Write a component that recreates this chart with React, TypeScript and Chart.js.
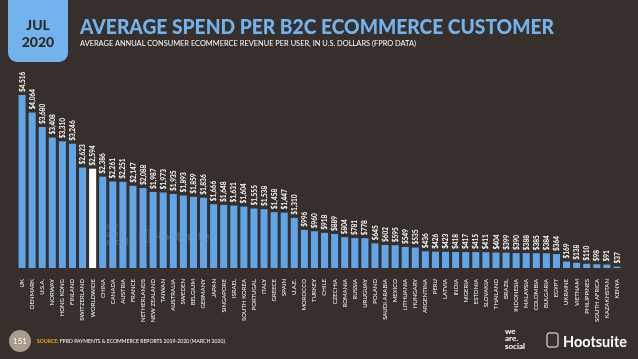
import React, { useEffect, useRef } from 'react';
import { Chart, registerables } from 'chart.js';
Chart.register(...registerables);

const categories = [
  'UK', 'DENMARK', 'U.S.A.', 'NORWAY', 'HONG KONG', 'FINLAND', 'SWITZERLAND', 'WORLDWIDE',
  'CHINA', 'CANADA', 'AUSTRIA', 'FRANCE', 'NETHERLANDS', 'NEW ZEALAND', 'TAIWAN', 'AUSTRALIA',
  'SWEDEN', 'BELGIUM', 'GERMANY', 'JAPAN', 'SINGAPORE', 'ISRAEL', 'SOUTH KOREA', 'PORTUGAL',
  'ITALY', 'GREECE', 'SPAIN', 'U.A.E.', 'MOROCCO', 'TURKEY', 'CHILE', 'CZECHIA', 'ROMANIA',
  'RUSSIA', 'URUGUAY', 'POLAND', 'SAUDI ARABIA', 'MEXICO', 'LITHUANIA', 'HUNGARY', 'ARGENTINA',
  'PERU', 'LATVIA', 'INDIA', 'NIGERIA', 'ESTONIA', 'SLOVAKIA', 'THAILAND', 'BRAZIL', 'INDONESIA',
  'MALAYSIA', 'COLOMBIA', 'BULGARIA', 'EGYPT', 'UKRAINE', 'VIETNAM', 'PHILIPPINES',
  'SOUTH AFRICA', 'KAZAKHSTAN', 'KENYA',
];

const spendValues = [
  4516, 4064, 3680, 3408, 3310, 3246, 2623, 2594,
  2386, 2261, 2251, 2147, 2088, 1987, 1973, 1935,
  1893, 1859, 1836, 1666, 1648, 1631, 1604, 1555,
  1538, 1458, 1447, 1310, 996, 960, 918, 889, 804,
  781, 778, 645, 602, 595, 549, 535, 436,
  426, 423, 418, 417, 415, 411, 404, 399, 390,
  388, 385, 384, 364, 169, 138, 110,
  98, 91, 37,
];

const highlightCategory = 'WORLDWIDE';

const BG = '#362f2b';
const BLUE = '#5fa5e8';
const TITLE_BLUE = '#72b3ee';

export default function App() {
  const ref = useRef<HTMLCanvasElement>(null);

  useEffect(() => {
    document.body.style.margin = '0';
    const valueLabels = {
      id: 'valueLabels',
      afterDatasetsDraw(chart: any) {
        const ctx = chart.ctx;
        const meta = chart.getDatasetMeta(0);
        ctx.save();
        ctx.fillStyle = '#ffffff';
        ctx.font = 'bold 6.5px Lato, "DejaVu Sans", sans-serif';
        meta.data.forEach((bar: any, i: number) => {
          ctx.save();
          ctx.translate(bar.x, bar.y - 3);
          ctx.rotate(-Math.PI / 2);
          ctx.textAlign = 'left';
          ctx.textBaseline = 'middle';
          ctx.fillText('$' + spendValues[i].toLocaleString('en-US'), 0, 0.5);
          ctx.restore();
        });
        ctx.restore();
      },
    };
    const chart = new Chart(ref.current as HTMLCanvasElement, {
      type: 'bar',
      data: {
        labels: categories,
        datasets: [
          {
            data: spendValues,
            backgroundColor: categories.map((c) => (c === highlightCategory ? '#ffffff' : BLUE)),
            barPercentage: 0.7,
            categoryPercentage: 1,
          },
        ],
      },
      options: {
        animation: false,
        responsive: false,
        maintainAspectRatio: false,
        layout: { padding: { left: 17, right: 16, top: 0, bottom: 0 } },
        plugins: { legend: { display: false }, tooltip: { enabled: false } },
        scales: {
          x: {
            grid: { display: false },
            border: { display: false },
            ticks: {
              color: '#ffffff',
              font: { size: 6, family: 'Lato, "DejaVu Sans", sans-serif' },
              maxRotation: 90,
              minRotation: 90,
              autoSkip: false,
              padding: 3,
            },
            afterFit: (s: any) => {
              s.height = 62;
            },
          },
          y: { display: false, min: 0, max: 7000 },
        },
      },
      plugins: [valueLabels],
    });
    return () => chart.destroy();
  }, []);

  return (
    <div
      style={{
        position: 'fixed',
        left: 0,
        top: 0,
        width: 638,
        height: 359,
        background: BG,
        overflow: 'hidden',
        fontFamily: 'Lato, sans-serif',
      }}
    >
      <svg width={638} height={359} style={{ position: 'absolute', left: 0, top: 0 }}>
        <g opacity={0.18} fill="#ffffff" fontWeight="bold">
          <text x={106} y={229} fontSize={9}>we</text>
          <text x={106} y={237} fontSize={9}>are</text>
          <text x={106} y={245} fontSize={9}>social</text>
          <rect x={140} y={230} width={9} height={12} fill="none" stroke="#fff" strokeWidth={1} />
          <text x={152} y={241} fontSize={13}>Hootsuite</text>
        </g>
      </svg>
      <canvas
        ref={ref}
        width={638}
        height={330}
        style={{ position: 'absolute', left: 0, top: 0, width: 638, height: 330 }}
      />
      <svg width={638} height={359} style={{ position: 'absolute', left: 0, top: 0 }}>
        <rect x={8} y={-12} width={60} height={74} rx={9} fill={TITLE_BLUE} />
        <text x={38} y={30} textAnchor="middle" fontSize={14} fontWeight="900" fill="#2f2926">JUL</text>
        <text x={38} y={47} textAnchor="middle" fontSize={14} fontWeight="900" fill="#2f2926">2020</text>
        <text x={80} y={34} fontSize={20} fontWeight="900" fill={TITLE_BLUE} textLength={474} lengthAdjust="spacingAndGlyphs">
          AVERAGE SPEND PER B2C ECOMMERCE CUSTOMER
        </text>
        <text x={80} y={46} fontSize={7} fill="#ffffff" textLength={336} lengthAdjust="spacingAndGlyphs">
          AVERAGE ANNUAL CONSUMER ECOMMERCE REVENUE PER USER, IN U.S. DOLLARS (FPRO DATA)
        </text>
        <circle cx={20} cy={341} r={11} fill="#a99d8c" />
        <text x={20} y={344} textAnchor="middle" fontSize={8} fill="#ffffff">151</text>
        <text x={37} y={343} fontSize={5.5} fill="#ffffff" textLength={189} lengthAdjust="spacingAndGlyphs">
          <tspan fill="#f5a623" fontWeight="bold">SOURCE: </tspan>
          FPRO PAYMENTS &amp; ECOMMERCE REPORTS 2019-2020 (MARCH 2020).
        </text>
        <g fill="#ffffff" fontWeight="bold" fontSize={8}>
          <text x={505} y={334}>we</text>
          <text x={505} y={341}>are.</text>
          <text x={505} y={349}>social</text>
        </g>
        <rect x={547} y={333} width={11} height={14} rx={2} fill="none" stroke="#ffffff" strokeWidth={1} />
        <text x={563} y={347} fontSize={15} fontWeight="bold" fill="#ffffff" textLength={64} lengthAdjust="spacingAndGlyphs">
          Hootsuite
        </text>
      </svg>
    </div>
  );
}
